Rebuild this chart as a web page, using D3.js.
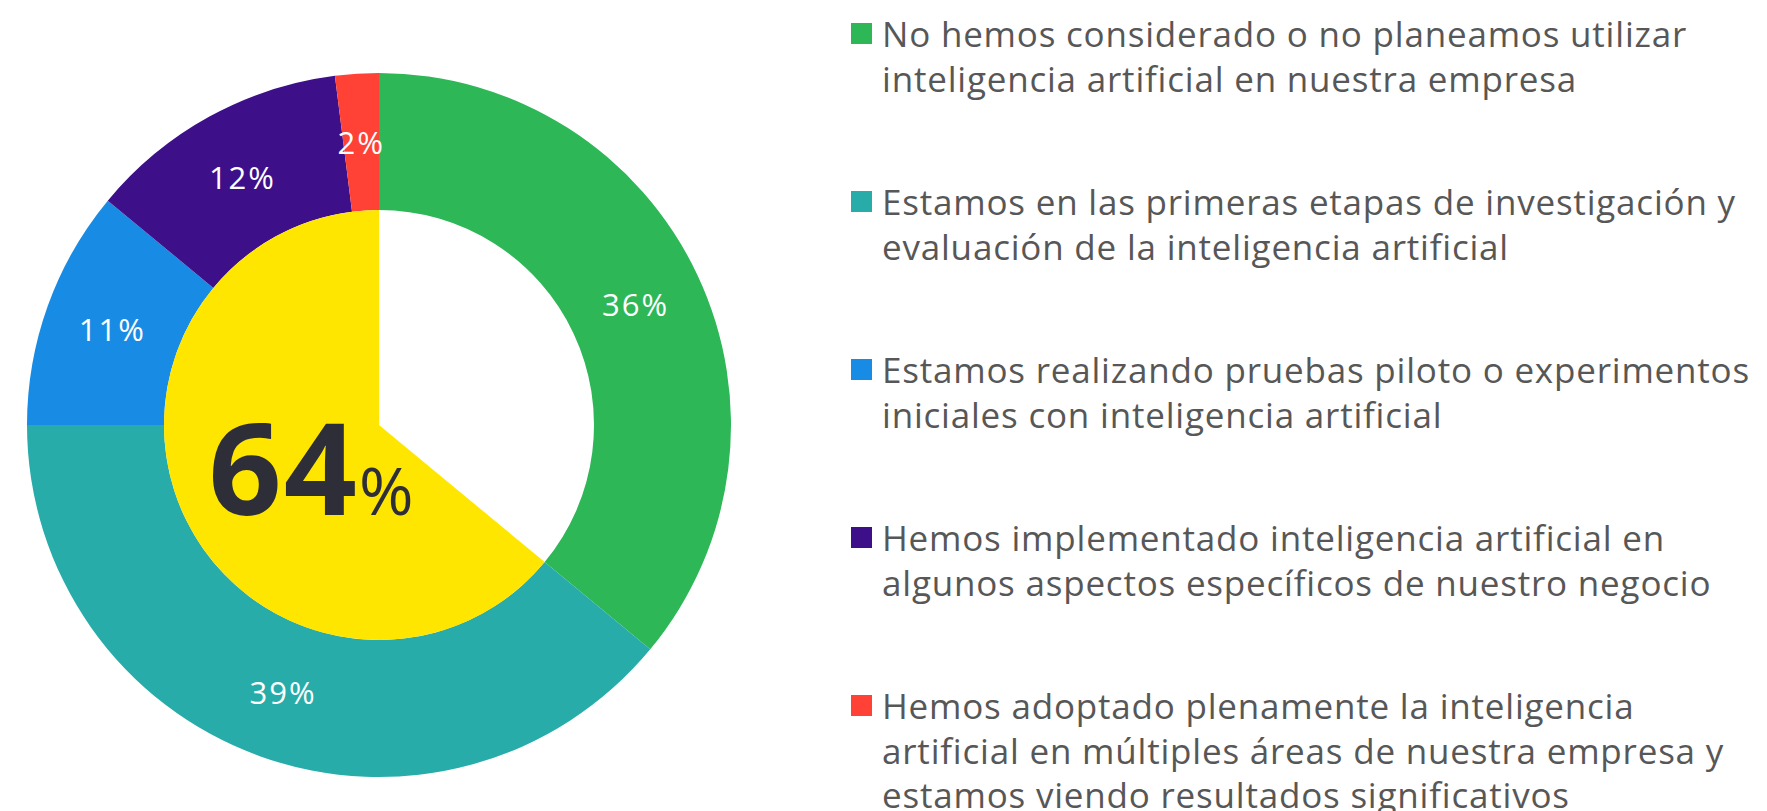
<!DOCTYPE html>
<html>
<head>
<meta charset="utf-8">
<script src="https://cdn.jsdelivr.net/npm/d3@7"></script>
<style>
  body { margin: 0; background: #fff; }
  svg { display: block; }
</style>
</head>
<body>
<div id="root"></div>
<script>
const width = 1767;
const height = 811;

// survey answers, in chart order (clockwise from 12 o'clock)
const categories = [
  "No hemos considerado o no planeamos utilizar inteligencia artificial en nuestra empresa",
  "Estamos en las primeras etapas de investigación y evaluación de la inteligencia artificial",
  "Estamos realizando pruebas piloto o experimentos iniciales con inteligencia artificial",
  "Hemos implementado inteligencia artificial en algunos aspectos específicos de nuestro negocio",
  "Hemos adoptado plenamente la inteligencia artificial en múltiples áreas de nuestra empresa y estamos viendo resultados significativos"
];
const legendLines = [
  ["No hemos considerado o no planeamos utilizar", "inteligencia artificial en nuestra empresa"],
  ["Estamos en las primeras etapas de investigación y", "evaluación de la inteligencia artificial"],
  ["Estamos realizando pruebas piloto o experimentos", "iniciales con inteligencia artificial"],
  ["Hemos implementado inteligencia artificial en", "algunos aspectos específicos de nuestro negocio"],
  ["Hemos adoptado plenamente la inteligencia", "artificial en múltiples áreas de nuestra empresa y", "estamos viendo resultados significativos"]
];
const values = [36, 39, 11, 12, 2];
const colors = ["#2db757", "#27acaa", "#188ce5", "#3d108a", "#ff4136"];

// share that has at least started with AI (shown in the middle)
const centerValue = 64;

const cx = 379;
const cy = 425;
const outerR = 352;
const innerR = 215;

let svg = d3
  .select("#root")
  .append("svg")
  .attr("width", width)
  .attr("height", height);

let g = svg.append("g").attr("transform", `translate(${cx}, ${cy})`);

let pie = d3.pie().sort(null).value((d) => d);
let arcs = pie(values);

let ring = d3.arc().innerRadius(innerR).outerRadius(outerR);

g.selectAll("path.slice")
  .data(arcs)
  .enter()
  .append("path")
  .attr("class", "slice")
  .attr("d", ring)
  .style("fill", (d, i) => colors[i]);

// inner yellow pie for the 64%
let innerArcs = pie([100 - centerValue, centerValue]);
let innerArc = d3.arc().innerRadius(0).outerRadius(innerR);

g.append("path")
  .attr("d", innerArc(innerArcs[1]))
  .style("fill", "#ffe600");

g.selectAll("text.label")
  .data(arcs)
  .enter()
  .append("text")
  .attr("class", "label")
  .attr("x", (d) => ring.centroid(d)[0])
  .attr("y", (d) => ring.centroid(d)[1])
  .attr("text-anchor", "middle")
  .attr("dominant-baseline", "central")
  .style("font-family", "'Open Sans', sans-serif")
  .style("font-size", "31px")
  .style("letter-spacing", "2px")
  .style("fill", "#fff")
  .text((d) => d.data + "%");

let big = g
  .append("text")
  .attr("x", -68)
  .attr("y", 90)
  .attr("text-anchor", "middle")
  .style("font-family", "'Open Sans', sans-serif")
  .style("fill", "#2e2e38");

big
  .append("tspan")
  .style("font-size", "128px")
  .style("font-weight", "700")
  .style("letter-spacing", "2px")
  .text(centerValue);

big
  .append("tspan")
  .style("font-size", "66px")
  .style("font-weight", "400")
  .text("%");

// legend
let legend = svg
  .selectAll("g.legend")
  .data(legendLines)
  .enter()
  .append("g")
  .attr("class", "legend")
  .attr("transform", (d, i) => `translate(851, ${47 + i * 168})`);

legend
  .append("rect")
  .attr("x", 0)
  .attr("y", -24)
  .attr("width", 21)
  .attr("height", 21)
  .style("fill", (d, i) => colors[i]);

legend
  .append("text")
  .style("font-family", "'Open Sans', sans-serif")
  .style("font-size", "35px")
  .style("letter-spacing", "0.8px")
  .style("fill", "#575757")
  .selectAll("tspan")
  .data((d) => d)
  .enter()
  .append("tspan")
  .attr("x", 31)
  .attr("y", (d, i) => i * 44.5)
  .text((d) => d);
</script>
</body>
</html>
